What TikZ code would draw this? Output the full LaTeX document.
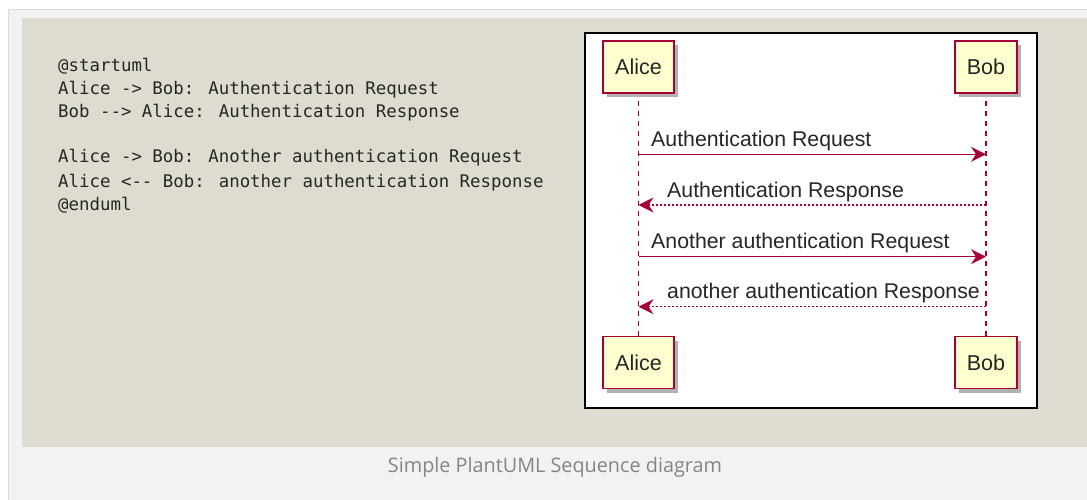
\documentclass[tikz,border=0pt]{standalone}
\usepackage{fontspec}
\setmainfont{Liberation Sans}
\newfontfamily\codefont{DejaVu Sans Mono}
\newfontfamily\capfont{Open Sans}
\usetikzlibrary{arrows.meta,shadows}
\definecolor{puRed}{HTML}{A80036}
\definecolor{puFill}{HTML}{FEFECE}
\definecolor{panelBg}{HTML}{DEDCD1}
\definecolor{outerBg}{HTML}{F2F2F2}
\definecolor{outerLine}{HTML}{DDDDDD}
\definecolor{codeText}{HTML}{262626}
\definecolor{capText}{HTML}{858585}
\begin{document}
\begin{tikzpicture}[x=1pt,y=-1pt,
  participant/.style={draw=puRed, line width=1.6pt, fill=puFill, inner xsep=12pt,
    minimum height=52pt, text=black!85, font=\fontsize{21.5}{24}\selectfont,
    drop shadow={shadow xshift=4pt, shadow yshift=-4pt, fill=black, opacity=0.3}},
  lifeline/.style={draw=puRed, line width=1.2pt, dash pattern=on 5pt off 5pt},
  request/.style={draw=puRed, line width=1.3pt, -{Stealth[length=15pt,width=15pt,inset=5pt]}},
  response/.style={draw=puRed, line width=1.3pt, dash pattern=on 2pt off 2pt, -{Stealth[length=15pt,width=15pt,inset=5pt]}},
  msglabel/.style={anchor=base west, inner sep=0pt, text=black!85, font=\fontsize{21.3}{24}\selectfont},
  codeline/.style={anchor=base west, inner sep=0pt, text=codeText, font=\codefont\fontsize{17.4}{20}\selectfont},
]
\useasboundingbox (0,0) rectangle (1087,500);
\fill[white] (0,0) rectangle (1087,500);
\filldraw[draw=outerLine, fill=outerBg, line width=1pt] (8.5,9.5) rectangle (1100,510);
\fill[panelBg] (22,18) rectangle (1087,447);

% code
\node[codeline] (c1) at (58,71.5) {@startuml};
\node[codeline] (c2) at (58,95) {Alice -> Bob: Authentication Request};
\node[codeline] (c3) at (58,117.8) {Bob -{}-> Alice: Authentication Response};
\node[codeline] (c4) at (58,163) {Alice -> Bob: Another authentication Request};
\node[codeline] (c5) at (58,187) {Alice <-{}- Bob: another authentication Response};
\node[codeline] (c6) at (58,210.5) {@enduml};

% diagram frame
\draw[line width=2.5pt, fill=white] (585,33) rectangle (1037,408);

% participants
\node[participant] (aliceTop) at (638.5,67) {Alice};
\node[participant] (bobTop) at (986,67) {Bob};
\node[participant] (aliceBot) at (638.5,362.5) {Alice};
\node[participant] (bobBot) at (986,362.5) {Bob};

% lifelines
\draw[lifeline] ([yshift=-7pt]aliceTop.south) -- (aliceBot.north);
\draw[lifeline] ([yshift=-7pt]bobTop.south) -- (bobBot.north);

% messages
\coordinate (m1) at (0,154.3);
\coordinate (m2) at (0,205);
\coordinate (m3) at (0,256.7);
\coordinate (m4) at (0,306.7);
\draw[request] (aliceTop |- m1) -- (bobTop |- m1);
\draw[response] (bobTop |- m2) -- (aliceTop |- m2);
\draw[request] (aliceTop |- m3) -- (bobTop |- m3);
\draw[response] (bobTop |- m4) -- (aliceTop |- m4);
\node[msglabel] (l1) at (651,146.5) {Authentication Request};
\node[msglabel] (l2) at (667,197.2) {Authentication Response};
\node[msglabel] (l3) at (651,248.9) {Another authentication Request};
\node[msglabel] (l4) at (667,298.9) {another authentication Response};

% caption
\node[inner sep=0pt, text=capText, font=\capfont\fontsize{20}{24}\selectfont] (cap) at (555,467)
  {\resizebox{334pt}{\height}{Simple PlantUML Sequence diagram}};
\end{tikzpicture}
\end{document}
